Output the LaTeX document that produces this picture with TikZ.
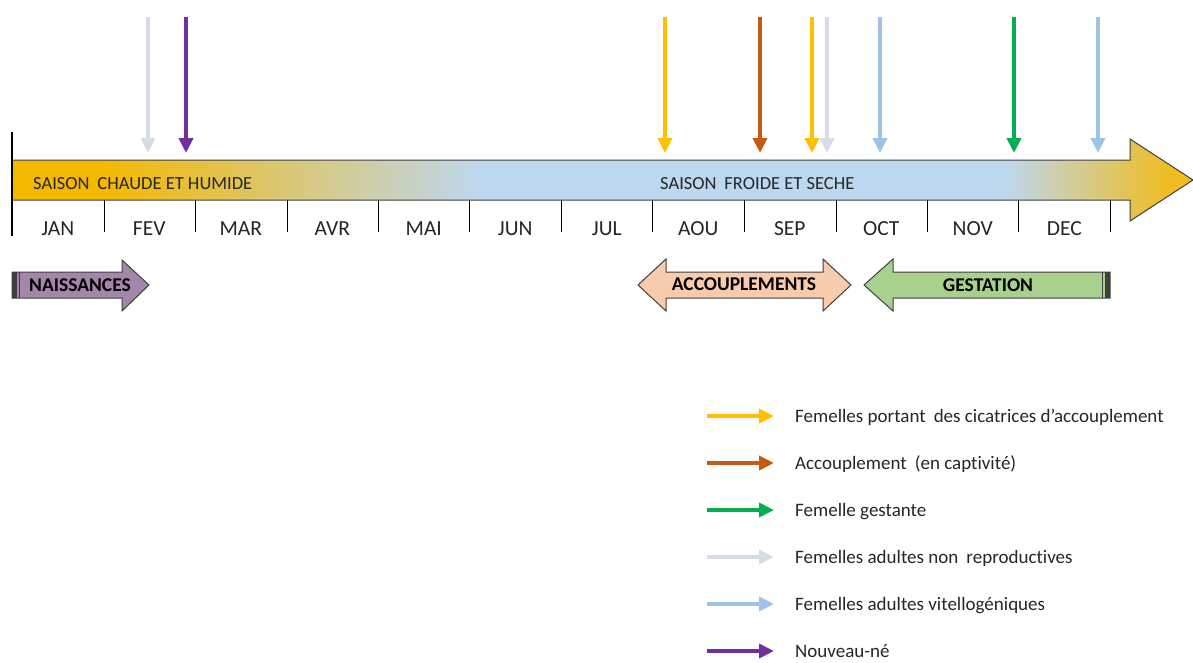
\documentclass[tikz,border=0pt]{standalone}
\usepackage{fontspec}
\setmainfont{Carlito}[Ligatures={NoCommon}]
\usetikzlibrary{arrows.meta}
\definecolor{cYel}{HTML}{FFC000}
\definecolor{cBrown}{HTML}{C55A11}
\definecolor{cGreen}{HTML}{00B050}
\definecolor{cGray}{HTML}{D6DCE5}
\definecolor{cBlue}{HTML}{9DC3E6}
\definecolor{cPurple}{HTML}{7030A0}
\definecolor{seaY}{HTML}{F5B800}
\definecolor{seaY2}{HTML}{F0BC20}
\definecolor{seaB}{HTML}{BDD7EE}
\definecolor{outl}{HTML}{3F3F3F}
\definecolor{txt}{HTML}{262626}
\definecolor{cNais}{HTML}{A586AB}
\definecolor{cAcc}{HTML}{F8CBAD}
\definecolor{cGest}{HTML}{A9D18E}
\begin{document}
\begin{tikzpicture}[x=1pt,y=-1pt,
  marker/.style={line width=4.5pt,-{Triangle[length=15pt,width=14pt]}},
  legarrow/.style={line width=4.5pt,-{Triangle[length=15pt,width=14pt]}},
  month/.style={font=\fontsize{21.5}{24}\selectfont,text=txt,anchor=base,inner sep=0pt},
  season/.style={font=\fontsize{18.5}{22}\selectfont,text=txt,anchor=base west,inner sep=0pt},
  legtxt/.style={font=\fontsize{19}{22}\selectfont,text=txt,anchor=base west,inner sep=0pt},
  blocktxt/.style={font=\bfseries\fontsize{19.5}{22}\selectfont,text=black,inner sep=0pt},
  blockb/.style={draw=outl,line width=1pt,line join=miter}]
\useasboundingbox (0,0) rectangle (1193,662);

% main season arrow with gradient
\begin{scope}
\clip (12,160) -- (1130,160) -- (1130,139) -- (1193,180) -- (1130,221) -- (1130,200) -- (12,200) -- cycle;
\fill[seaY] (11,130) rectangle (101,230);
\shade[left color=seaY, right color=seaB] (100,130) rectangle (480,230);
\fill[seaB] (479,130) rectangle (1006,230);
\shade[left color=seaB, right color=seaY2] (1005,130) rectangle (1170,230);
\fill[seaY2] (1169,130) rectangle (1194,230);
\end{scope}
\draw[outl,line width=1pt] (12,160) -- (1130,160) -- (1130,139) -- (1193,180) -- (1130,221) -- (1130,200) -- (12,200);

% axis line and ticks
\coordinate (axT) at (12,132);
\coordinate (axB) at (12,236);
\draw[black,line width=1.2pt] (axT) -- (axB);
\foreach \x [count=\i] in {104,195,287,378,469,561,652,744,836,927,1018,1110}{
  \coordinate (tk\i a) at (\x,200);
  \coordinate (tk\i b) at (\x,232);
  \draw[black,line width=1pt] (tk\i a) -- (tk\i b);
}

% season labels
\node[season] (s1) at (33,189) {SAISON\hspace{0.2em} CHAUDE ET HUMIDE};
\node[season] (s2) at (660,189) {SAISON\hspace{0.2em} FROIDE ET SECHE};

% months (clipped at the bottom as in the reference)
\begin{scope}
\clip (0,200) rectangle (1193,236);
\foreach \m [count=\i] in {JAN,FEV,MAR,AVR,MAI,JUN,JUL,AOU,SEP,OCT,NOV,DEC}{
  \node[month] (m\i) at ({12+91.5*(\i-0.5)},235.5) {\m};
}
\end{scope}

% marker arrows
\foreach \x/\c [count=\i] in {148/cGray,186/cPurple,665/cYel,760/cBrown,812/cYel,827/cGray,880/cBlue,1014/cGreen,1098/cBlue}{
  \coordinate (mk\i t) at (\x,17);
  \coordinate (mk\i b) at (\x,153);
  \draw[marker,\c] (mk\i t) -- (mk\i b);
}

% block arrows
\draw[blockb,fill=cNais] (12,272) -- (122,272) -- (122,260) -- (149,285) -- (122,311) -- (122,298) -- (12,298) -- cycle;
\fill[outl] (12,272) rectangle (17,298);
\draw[outl,line width=1pt] (19.5,272) -- (19.5,298);
\node[blocktxt] (nais) at (80,285) {NAISSANCES};

\draw[blockb,fill=cAcc] (638,285) -- (666,259) -- (666,272) -- (823,272) -- (823,259) -- (851,285) -- (823,311) -- (823,298) -- (666,298) -- (666,311) -- cycle;
\node[blocktxt] (acc) at (744,284) {ACCOUPLEMENTS};

\draw[blockb,fill=cGest] (864,285) -- (893,259) -- (893,272) -- (1110,272) -- (1110,298) -- (893,298) -- (893,311) -- cycle;
\fill[outl] (1105,272) rectangle (1110,298);
\draw[outl,line width=1pt] (1102,272) -- (1102,298);
\node[blocktxt] (gest) at (988,285) {GESTATION};

% legend
\foreach \y/\c/\t [count=\i] in {
  416/cYel/{Femelles portant\hspace{0.2em} des cicatrices d’accouplement},
  463/cBrown/{Accouplement\hspace{0.2em} (en captivité)},
  510/cGreen/{Femelle gestante},
  557/cGray/{Femelles adultes non\hspace{0.2em} reproductives},
  604/cBlue/{Femelles adultes vitellogéniques},
  651/cPurple/{Nouveau-né}}{
  \coordinate (lg\i a) at (707,\y);
  \coordinate (lg\i b) at (774,\y);
  \draw[legarrow,\c] (lg\i a) -- (lg\i b);
  \node[legtxt] (lt\i) at (795,\y+6.5) {\t};
}
\end{tikzpicture}
\end{document}
